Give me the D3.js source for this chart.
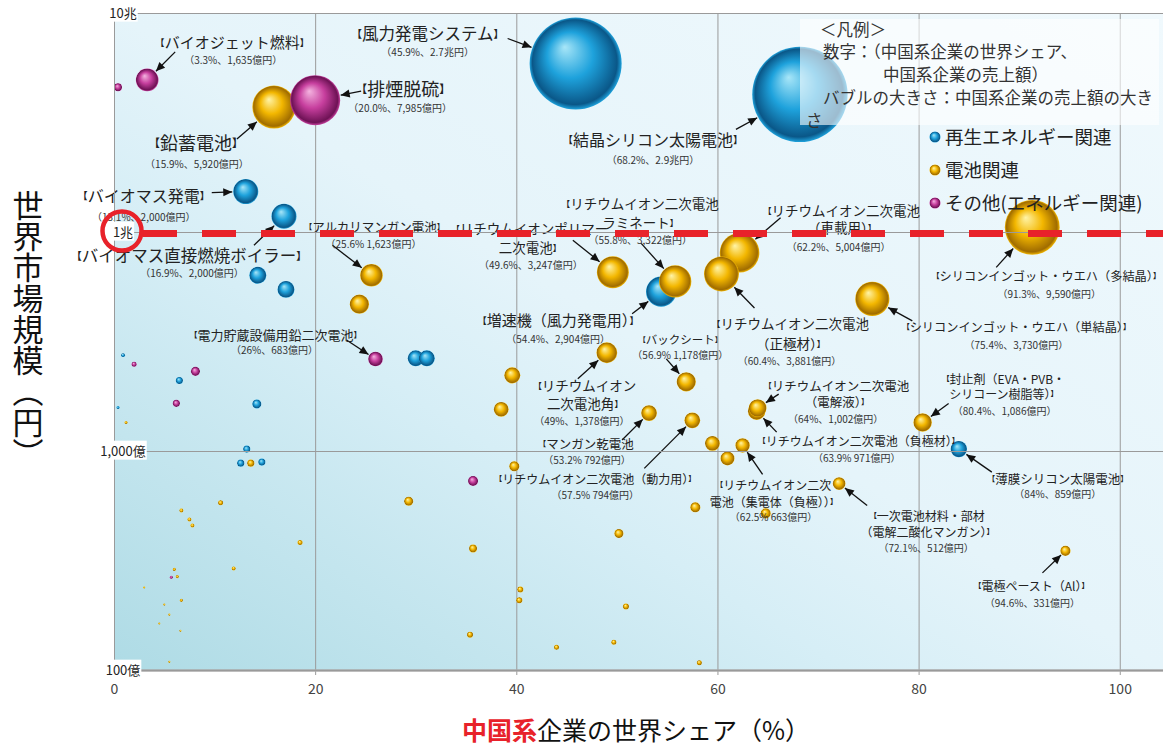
<!DOCTYPE html>
<html>
<head>
<meta charset="utf-8">
<script src="https://cdn.jsdelivr.net/npm/d3@7"></script>
<style>
body { margin:0; background:#fff; }
text { font-family: "Noto Sans CJK JP", "Noto Sans", sans-serif; }
</style>
</head>
<body>
<div id="chart-area"></div>
<script>
/*
*    中国系企業の世界シェアと世界市場規模 (bubble chart)
*/

// ---- data (share %, world market 億円, chinese sales 億円) ----
var labelNames = [
    "【バイオジェット燃料】", "【鉛蓄電池】", "【排煙脱硫】", "【風力発電システム】",
    "【結晶シリコン太陽電池】", "【バイオマス発電】", "【バイオマス直接燃焼ボイラー】",
    "【アルカリマンガン電池】", "【電力貯蔵設備用鉛二次電池】", "【リチウムイオンポリマー\n二次電池】",
    "【増速機（風力発電用）】", "【リチウムイオン二次電池\nラミネート】", "【リチウムイオン二次電池\n（車載用）】",
    "【リチウムイオン二次電池\n（正極材）】", "【シリコンインゴット・ウエハ（多結晶）】",
    "【シリコンインゴット・ウエハ（単結晶）】", "【バックシート】", "【リチウムイオン\n二次電池角】",
    "【マンガン乾電池", "【リチウムイオン二次電池（動力用）】", "【リチウムイオン二次電池（負極材）】",
    "【リチウムイオン二次電池\n（電解液）】", "【リチウムイオン二次\n電池（集電体（負極））】",
    "【封止剤（EVA・PVB・\nシリコーン樹脂等）】", "【薄膜シリコン太陽電池】",
    "【一次電池材料・部材\n（電解二酸化マンガン）】", "【電極ペースト（Al）】"
];
var labelValues = [
    "（3.3%、1,635億円）", "（15.9%、5,920億円）", "（20.0%、7,985億円）", "（45.9%、2.7兆円）",
    "（68.2%、2.9兆円）", "（13.1%、2,000億円）", "（16.9%、2,000億円）", "（25.6% 1,623億円）",
    "（26%、683億円）", "（49.6%、3,247億円）", "（54.4%、2,904億円）", "（55.8%、3,322億円）",
    "（62.2%、5,004億円）", "（60.4%、3,881億円）", "（91.3%、9,590億円）", "（75.4%、3,730億円）",
    "（56.9% 1,178億円）", "（49%、1,378億円）", "（53.2% 792億円）", "（57.5% 794億円）",
    "（63.9% 971億円）", "（64%、1,002億円）", "（62.5% 663億円）", "（80.4%、1,086億円）",
    "（84%、859億円）", "（72.1%、512億円）", "（94.6%、331億円）"
];
var labelShares  = [3.3, 15.9, 20.0, 45.9, 68.2, 13.1, 16.9, 25.6, 26, 49.6, 54.4, 55.8, 62.2, 60.4,
                    91.3, 75.4, 56.9, 49, 53.2, 57.5, 63.9, 64, 62.5, 80.4, 84, 72.1, 94.6];
var labelSales   = [1635, 5920, 7985, 27000, 29000, 2000, 2000, 1623, 683, 3247, 2904, 3322, 5004, 3881,
                    9590, 3730, 1178, 1378, 792, 794, 971, 1002, 663, 1086, 859, 512, 331];
var labelMarkets = [49500, 37200, 40000, 58800, 42500, 15300, 11800, 6340, 2630, 6550, 5340, 5950, 8040, 6430,
                    10500, 4950, 2070, 2810, 1490, 1380, 1520, 1570, 1060, 1350, 1020, 710, 350];
var labelGroups  = ["other", "battery", "other", "renew", "renew", "renew", "renew", "battery", "other", "battery",
                    "renew", "battery", "battery", "battery", "battery", "battery", "battery", "battery", "battery",
                    "battery", "battery", "battery", "battery", "battery", "renew", "battery", "battery"];

// unlabeled bubbles
var otherShares  = [0.4, 14.3, 17.1, 24.4, 30.0, 31.1, 0.9, 2.0, 8.1, 6.5, 6.2, 14.2, 0.4, 1.2, 13.2, 12.6, 13.6, 14.7,
                    35.7, 29.3, 10.6, 6.7, 7.5, 7.8, 18.5, 35.7, 11.9, 6.0, 5.7, 6.3, 3.0, 6.7, 5.0, 5.5, 4.5, 6.6, 5.5,
                    35.4, 39.6, 38.5, 59.5, 61.0, 39.8, 57.8, 64.8, 50.2, 40.4, 40.3, 50.9, 44.0, 49.7, 58.2];
var otherMarkets = [45800, 6340, 5470, 4680, 2650, 2650, 2740, 2490, 2310, 2100, 1650, 1640, 1580, 1350, 1020, 880, 880, 890,
                    730, 590, 580, 535, 487, 457, 382, 359, 291, 288, 265, 267, 238, 208, 199, 179, 163, 151, 109,
                    145, 2215, 1550, 1083, 925, 851, 553, 519, 420, 233, 208, 195, 127, 134, 108];
var otherSales   = [200, 920, 920, 1180, 820, 820, 50, 80, 260, 160, 160, 260, 30, 30, 160, 160, 160, 160,
                    320, 260, 80, 50, 50, 50, 80, 200, 50, 30, 30, 30, 15, 30, 15, 15, 15, 15, 15,
                    115, 820, 700, 700, 625, 320, 320, 320, 260, 115, 115, 115, 80, 80, 80];
var otherGroups  = ["other", "renew", "renew", "battery", "renew", "renew", "renew", "other", "other", "renew", "other",
                    "renew", "renew", "battery", "renew", "renew", "battery", "renew", "other", "battery", "battery",
                    "battery", "battery", "battery", "battery", "battery", "battery", "battery", "other", "battery",
                    "battery", "battery", "battery", "battery", "battery", "battery", "battery", "battery", "battery",
                    "battery", "battery", "battery", "battery", "battery", "battery", "battery", "battery", "battery",
                    "battery", "battery", "battery", "battery"];

// axis ticks
var xTicks = [0, 20, 40, 60, 80, 100];
var yTicks = [100, 1000, 10000, 100000];
var yTickLabels = ["100億", "1,000億", "1兆", "10兆"];

// legend
var legendNotes = ["＜凡例＞", "数字：（中国系企業の世界シェア、", "中国系企業の売上額）",
                   "バブルの大きさ：中国系企業の売上額の大き", "さ"];
var legendNames = ["再生エネルギー関連", "電池関連", "その他(エネルギー関連)"];
var legendKeys = ["renew", "battery", "other"];

// label layout: [name dx, name dy, value dx, value dy, arrow dx, arrow dy, font size, line gap]
var labelLayout = [
    [85,-38, 86,-20, 28,-28, 15, 0], [-78,36, -77,57, -37,32, 18, 0], [88,-11, 85,8, 46,-9, 18, 0],
    [-148,-30, -148,-11, -68,-25, 16.5, 0], [-147,46, -147,66, -64,35, 16, 0], [-102,4, -102,26, -34,1, 16, 0],
    [-95,39, -92,57, -30,29, 16.5, 0], [3,-48, 2,-31, -39,-30, 12.5, 0], [-100,-24, -101,-9, -29,-19, 13, 0],
    [-83,-43, -82,-7, -40,-32, 13.5, 19], [-103,29, -103,48, -29,22, 15, 0], [-35,-78, -35,-41, -34,-38, 13.5, 19],
    [102,-42, 99,-6, 41,-35, 13.5, 17], [69,50, 68,87, 33,34, 13.5, 20], [14,49, 17,67, -36,40, 12.2, 0],
    [144,28, 144,46, 40,22, 12.2, 0], [-6,-42, -6,-27, -20,-23, 11.5, 0], [-22,33, -25,68, -29,26, 13.5, 18],
    [-63,31, -62,47, -27,27, 12.5, 0], [-97,59, -97,75, -48,48, 12, 0], [102,30, 100,47, 20,21, 12, 0],
    [79,-22, 78,11, 21,-14, 12.5, 16], [31,40, 31,72, 20,29, 12, 17], [81,-43, 82,-11, 26,-19, 12, 15],
    [99,30, 99,45, 33,23, 12.5, 0], [88,33, 87,65, 28,22, 12, 16], [-34,36, -33,52, -23,22, 12, 0]
];

// canvas size
const svgWidth = 1163,
      svgHeight = 745;
const margin = { left:114, top:13, right:0, bottom:75 };
var plotWidth = svgWidth - margin.left - margin.right,
    plotHeight = svgHeight - margin.top - margin.bottom;

var svg = d3.select("#chart-area").append("svg")
    .attr("width", svgWidth)
    .attr("height", svgHeight);

var defs = svg.append("defs");

// background gradient
var bg = defs.append("linearGradient")
    .attr("id", "bg")
    .attr("x1", 0).attr("y1", 1).attr("x2", 1).attr("y2", 0);
[[0, "#aedbe5"], [0.35, "#d6eef6"], [0.5, "#e5f4fa"], [1, "#f0f9fd"]].forEach(function(s){
    bg.append("stop").attr("offset", s[0]).attr("stop-color", s[1]);
});

// sphere gradients
var colors = {
    renew:   ["#a8e6f8", "#1ea2dc", "#0a5788"],
    battery: ["#fff4a8", "#f3b700", "#a06c00"],
    other:   ["#f4b4e0", "#c73f9e", "#6e1255"]
};
Object.keys(colors).forEach(function(k){
    var grad = defs.append("radialGradient")
        .attr("id", "ball-" + k)
        .attr("cx", "50%").attr("cy", "50%").attr("r", "50%")
        .attr("fx", "38%").attr("fy", "32%");
    grad.append("stop").attr("offset", "0%").attr("stop-color", colors[k][0]);
    grad.append("stop").attr("offset", "50%").attr("stop-color", colors[k][1]);
    grad.append("stop").attr("offset", "92%").attr("stop-color", colors[k][2]);
    grad.append("stop").attr("offset", "100%").attr("stop-color", colors[k][1]);
});

// arrow head
defs.append("marker")
    .attr("id", "arrow")
    .attr("markerUnits", "userSpaceOnUse")
    .attr("viewBox", "0 -5 10 10")
    .attr("refX", 10).attr("refY", 0)
    .attr("markerWidth", 10).attr("markerHeight", 9)
    .attr("orient", "auto")
    .append("path")
    .attr("d", "M0,-4.5L10,0L0,4.5Z")
    .attr("fill", "#111");

var g = svg.append("g")
    .attr("transform", "translate("+margin.left+","+margin.top+")");

g.append("rect")
    .attr("width", plotWidth)
    .attr("height", plotHeight)
    .attr("fill", "url(#bg)");

// Scales
var x = d3.scaleLinear().domain([0, 104.3]).range([0, plotWidth]);
var y = d3.scaleLog().domain([100, 100000]).range([plotHeight, 0]);
var r = d3.scaleSqrt().domain([0, 30000]).range([0, 48.5]);

// Axes (grid lines)
var xAxis = g.append("g")
    .attr("class", "x-axis")
    .attr("transform", "translate(0,"+plotHeight+")")
    .call(d3.axisBottom(x).tickValues(xTicks).tickSize(-plotHeight - 5).tickPadding(14));
xAxis.select(".domain").remove();
xAxis.selectAll("line").attr("stroke", "#9a9a9a").attr("transform", "translate(0,5)");
xAxis.selectAll("text")
    .attr("font-family", "Liberation Sans, sans-serif")
    .attr("font-size", "14px")
    .attr("fill", "#444");

var yAxis = g.append("g")
    .attr("class", "y-axis")
    .call(d3.axisLeft(y).tickValues(yTicks).tickSize(-plotWidth).tickSizeOuter(0)
        .tickFormat(function(d, i){ return yTickLabels[i]; }));
yAxis.select(".domain").attr("stroke", "#9a9a9a");
yAxis.selectAll("line").attr("stroke", "#9a9a9a");

g.append("line")
    .attr("x1", 0).attr("x2", plotWidth)
    .attr("y1", plotHeight + 0.5).attr("y2", plotHeight + 0.5)
    .attr("stroke", "#a8a8a8").attr("stroke-width", 2.5);

// Bubbles
var bubbles = [];
otherShares.forEach(function(s, i){
    bubbles.push({ share:s, market:otherMarkets[i], sales:otherSales[i], group:otherGroups[i] });
});
labelShares.forEach(function(s, i){
    bubbles.push({ share:s, market:labelMarkets[i], sales:labelSales[i], group:labelGroups[i] });
});

g.append("g").selectAll("circle")
    .data(bubbles)
    .enter().append("circle")
    .attr("cx", function(d){ return x(d.share); })
    .attr("cy", function(d){ return y(d.market); })
    .attr("r", function(d){ return Math.max(r(d.sales), 0.9); })
    .attr("fill", function(d){ return "url(#ball-" + d.group + ")"; });

// Labels with arrows
var labels = g.append("g");
labelNames.forEach(function(name, i){
    var lay = labelLayout[i],
        fs = lay[6],
        bx = x(labelShares[i]),
        by = y(labelMarkets[i]),
        rad = r(labelSales[i]);

    // arrow from label to bubble edge
    var ax = bx + lay[4], ay = by + lay[5],
        dx = ax - bx, dy = ay - by,
        len = Math.sqrt(dx*dx + dy*dy);
    labels.append("line")
        .attr("x1", ax).attr("y1", ay)
        .attr("x2", bx + dx/len*(rad+1)).attr("y2", by + dy/len*(rad+1))
        .attr("stroke", "#111")
        .attr("stroke-width", 1.3)
        .attr("marker-end", "url(#arrow)");

    name.split("\n").forEach(function(line, j){
        var t = labels.append("text")
            .attr("x", bx + lay[0])
            .attr("y", by + lay[1] + j*lay[7] + 0.38*fs)
            .attr("text-anchor", "middle")
            .attr("font-size", fs + "px")
            .attr("fill", "#222");
        line.split(/([【】])/).forEach(function(part){
            if (!part) return;
            var ts = t.append("tspan").text(part);
            if (part == "【" || part == "】") {
                ts.attr("font-size", (fs*0.62) + "px")
                  .attr("font-weight", "bold")
                  .attr("baseline-shift", (0.15*fs) + "px");
            }
        });
    });

    labels.append("text")
        .attr("x", bx + lay[2])
        .attr("y", by + lay[3] + 3.8)
        .attr("text-anchor", "middle")
        .attr("font-size", "10px")
        .attr("fill", "#333")
        .text(labelValues[i]);
});

// Y tick labels (centered inside the plot, white box behind)
yAxis.selectAll(".tick text")
    .attr("x", 9)
    .attr("text-anchor", "middle")
    .attr("font-size", "13px")
    .attr("fill", "#222")
    .each(function(){
        var b = this.getBBox();
        d3.select(this.parentNode).insert("rect", "text")
            .attr("x", b.x - 1).attr("y", b.y)
            .attr("width", b.width + 2).attr("height", b.height)
            .attr("fill", "#fff");
    });
yAxis.raise();

// red dashed line at 1兆
g.append("line")
    .attr("x1", 29).attr("x2", plotWidth)
    .attr("y1", y(10000) + 1.5).attr("y2", y(10000) + 1.5)
    .attr("stroke", "#e8222a")
    .attr("stroke-width", 7)
    .attr("stroke-dasharray", "34,25");

g.append("circle")
    .attr("cx", 8).attr("cy", y(10000) - 1)
    .attr("r", 19.5)
    .attr("fill", "none")
    .attr("stroke", "#e8222a")
    .attr("stroke-width", 4.5);

// Legend box
var legend = svg.append("g");
legend.append("rect")
    .attr("x", 800).attr("y", 19)
    .attr("width", 359).attr("height", 106)
    .attr("fill", "#fff")
    .attr("fill-opacity", 0.6);

var noteX = [820, 823, 883, 823, 806],
    noteY = [30, 52, 75, 98, 121];
legendNotes.forEach(function(t, i){
    legend.append("text")
        .attr("x", noteX[i]).attr("y", noteY[i] + 6)
        .attr("font-size", "16.5px")
        .attr("fill", "#333")
        .text(t);
});

legendNames.forEach(function(t, i){
    legend.append("circle")
        .attr("cx", 935).attr("cy", 137 + i*33)
        .attr("r", 5.5)
        .attr("fill", "url(#ball-" + legendKeys[i] + ")");
    legend.append("text")
        .attr("x", 945).attr("y", 137 + i*33 + 7)
        .attr("font-size", "18.5px")
        .attr("fill", "#222")
        .text(t);
});

// Axis titles
svg.append("text")
    .attr("x", 28).attr("y", 329)
    .attr("text-anchor", "middle")
    .style("writing-mode", "vertical-rl")
    .attr("font-size", "31px")
    .attr("fill", "#111")
    .text("世界市場規模（円）");

var xTitle = svg.append("text")
    .attr("x", 636).attr("y", 740)
    .attr("text-anchor", "middle")
    .attr("font-size", "25px")
    .attr("fill", "#111");
xTitle.append("tspan").attr("fill", "#e8222a").attr("font-weight", "bold").text("中国系");
xTitle.append("tspan").text("企業の世界シェア（%）");
</script>
</body>
</html>
